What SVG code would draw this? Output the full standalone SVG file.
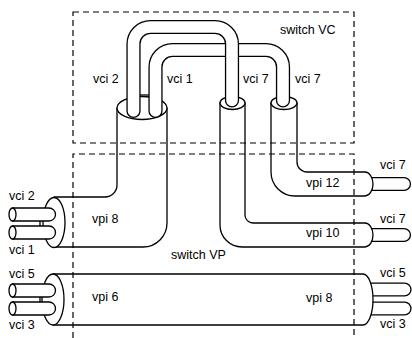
<svg xmlns="http://www.w3.org/2000/svg" width="412" height="338" viewBox="0 0 412 338">
  <style>
    .ln { fill: #fff; stroke: #000; stroke-width: 1.3; stroke-linejoin: round; }
    .bare { fill: none; stroke: #000; stroke-width: 1.3; }
    .tube-out { fill: none; stroke: #000; stroke-width: 14.2; stroke-linecap: round; stroke-linejoin: round; }
    .tube-in { fill: none; stroke: #fff; stroke-width: 11.6; stroke-linecap: round; stroke-linejoin: round; }
    .dash { fill: none; stroke: #000; stroke-width: 1.2; stroke-dasharray: 6 4; }
    text { font-family: "Liberation Sans", Arial, Helvetica, sans-serif; font-size: 12.5px; fill: #000; }
  </style>
  <rect width="412" height="338" fill="#fff"/>

  <!-- vpi 8 cable entering from the left, turning up into switch VC -->
  <g id="vpi8-in">
    <path class="ln" d="M117,108 V185 A12,12 0 0 1 105,197 H54 V247 H143 A24,24 0 0 0 167,223 V108 Z"/>
    <ellipse class="ln" cx="54" cy="222.5" rx="11" ry="25"/>
    <ellipse class="ln" cx="142" cy="108" rx="25" ry="11.5"/>
    <path class="ln" d="M12.5,208 H49 A6.5,6.5 0 0 1 49,221 H12.5 Z"/>
    <ellipse class="ln" cx="12.5" cy="214.5" rx="3.5" ry="6.5"/>
    <path class="ln" d="M12.5,226 H49 A6.5,6.5 0 0 1 49,239 H12.5 Z"/>
    <ellipse class="ln" cx="12.5" cy="232.5" rx="3.5" ry="6.5"/>
    <line class="bare" x1="40" y1="221" x2="40" y2="226"/>
  </g>

  <!-- vpi 10 cable: from switch VC down and out to the right -->
  <g id="vpi10-out">
    <path class="tube-out" d="M358,235 H404"/>
    <path class="tube-in" d="M358,235 H404"/>
    <path class="ln" d="M220,103 V225 A22,22 0 0 0 242,247 H365 A8,12 0 0 0 365,223 H253 A8,8 0 0 1 245,215 V103 Z"/>
    <ellipse class="ln" cx="232.5" cy="103" rx="12.5" ry="6.5"/>
  </g>

  <!-- vpi 12 cable: from switch VC down and out to the right -->
  <g id="vpi12-out">
    <path class="tube-out" d="M358,184 H404"/>
    <path class="tube-in" d="M358,184 H404"/>
    <path class="ln" d="M271,103 V172 A24,24 0 0 0 295,196 H365 A8,12 0 0 0 365,172 H307 A10,10 0 0 1 297,162 V103 Z"/>
    <ellipse class="ln" cx="284" cy="103" rx="13" ry="6.5"/>
  </g>

  <!-- vpi 6 -> vpi 8 cable straight through switch VP -->
  <g id="vpi6-through">
    <path class="tube-out" d="M356,289.5 H404.5"/>
    <path class="tube-in" d="M356,289.5 H404.5"/>
    <path class="tube-out" d="M356,308.5 H404.5"/>
    <path class="tube-in" d="M356,308.5 H404.5"/>
    <path class="ln" d="M53,274 H363 A10,25.5 0 0 1 363,325 H53 Z"/>
    <ellipse class="ln" cx="53" cy="299.5" rx="11" ry="25.5"/>
    <path class="ln" d="M12.5,284 H49 A6.5,6.5 0 0 1 49,297 H12.5 Z"/>
    <ellipse class="ln" cx="12.5" cy="290.5" rx="3.5" ry="6.5"/>
    <path class="ln" d="M12.5,302 H49 A6.5,6.5 0 0 1 49,315 H12.5 Z"/>
    <ellipse class="ln" cx="12.5" cy="308.5" rx="3.5" ry="6.5"/>
    <line class="bare" x1="40" y1="297" x2="40" y2="302"/>
  </g>

  <!-- vci channels switched inside switch VC -->
  <g id="vc-links">
    <path class="tube-out" d="M155.5,111 V67 A17,17 0 0 1 172.5,50 H266 A17,17 0 0 1 283,67 V100.5"/>
    <path class="tube-in" d="M155.5,111 V67 A17,17 0 0 1 172.5,50 H266 A17,17 0 0 1 283,67 V100.5"/>
    <path class="tube-out" d="M133.5,111 V44 A17,17 0 0 1 150.5,27 H215 A17,17 0 0 1 232,44 V100.5"/>
    <path class="tube-in" d="M133.5,111 V44 A17,17 0 0 1 150.5,27 H215 A17,17 0 0 1 232,44 V100.5"/>
    <line class="bare" x1="140" y1="95" x2="149" y2="95"/>
  </g>

  <!-- switch boundaries -->
  <g id="switch-vc">
    <rect class="dash" x="73" y="12" width="281" height="131"/>
  </g>
  <g id="switch-vp">
    <path class="dash" d="M73,338 V154 H354 V338"/>
  </g>

  <!-- labels -->
  <g id="labels">
    <text x="280" y="34">switch VC</text>
    <text x="171" y="259">switch VP</text>
    <text x="93" y="83">vci 2</text>
    <text x="167" y="83">vci 1</text>
    <text x="243" y="83">vci 7</text>
    <text x="295" y="83">vci 7</text>
    <text x="9" y="200">vci 2</text>
    <text x="9" y="254">vci 1</text>
    <text x="92" y="223">vpi 8</text>
    <text x="9" y="278">vci 5</text>
    <text x="9" y="329">vci 3</text>
    <text x="92" y="301">vpi 6</text>
    <text x="380" y="169">vci 7</text>
    <text x="306" y="187">vpi 12</text>
    <text x="380" y="223">vci 7</text>
    <text x="306" y="237">vpi 10</text>
    <text x="380" y="277">vci 5</text>
    <text x="306" y="302">vpi 8</text>
    <text x="380" y="328">vci 3</text>
  </g>
</svg>
